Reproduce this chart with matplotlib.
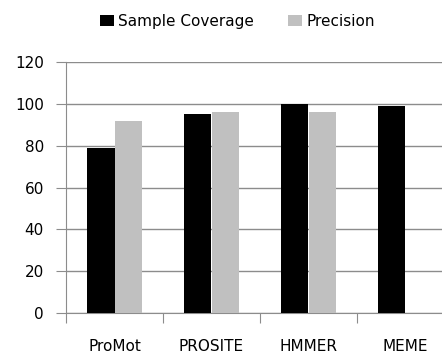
import matplotlib.pyplot as plt
import numpy as np

tools = ['ProMot', 'PROSITE', 'HMMER', 'MEME']
coverage = [79, 95, 100, 99]
precision = [92, 96, 96, 0]

plt.rcParams['font.family'] = ['DejaVu Sans']

fig = plt.figure(figsize=(4.42, 3.54), dpi=100)
ax = fig.add_axes([66/442, 1-313/354, 388/442, 251/354])

x = np.arange(len(tools))
w = 0.28
ax.bar(x - w/2, coverage, w, color='black', label='Sample Coverage', zorder=3)
ax.bar(x + w/2, precision, w, color='#c0c0c0', label='Precision', zorder=3)

ax.set_xlim(-0.5, 3.5)
ax.set_ylim(0, 120)
ax.set_yticks(range(0, 121, 20))
ax.yaxis.grid(True, color='#8c8c8c', linewidth=1, zorder=0)

ax.set_xticks(np.arange(-0.5, 4, 1))
ax.set_xticklabels([])
ax.set_xticks(x, minor=True)
ax.set_xticklabels(tools, minor=True)
ax.tick_params(axis='x', which='major', length=7, color='#8c8c8c')
ax.tick_params(axis='x', which='minor', length=0, pad=19, labelsize=11)
ax.tick_params(axis='y', length=7, color='#8c8c8c', labelsize=11, pad=9)

for s in ['top', 'right']:
    ax.spines[s].set_visible(False)
for s in ['left', 'bottom']:
    ax.spines[s].set_color('#8c8c8c')

fig.legend(loc='upper left', bbox_to_anchor=(0.195, 1.0), ncol=2, frameon=False,
           fontsize=11, handlelength=0.9, handleheight=0.8, handletextpad=0.3,
           columnspacing=2.2)

fig.savefig('out.png', dpi=100)
